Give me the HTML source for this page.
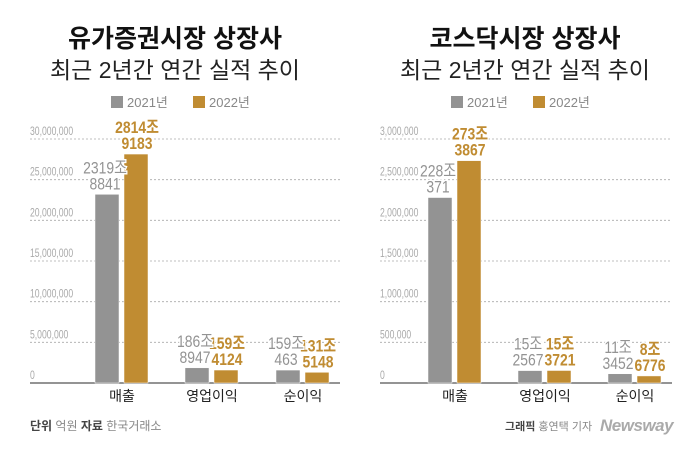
<!DOCTYPE html>
<html><head><meta charset="utf-8"><style>
body{margin:0;width:700px;height:450px;background:#fff;overflow:hidden;font-family:"Liberation Sans","Noto Sans CJK KR",sans-serif}
svg text{font-family:"Liberation Sans","Noto Sans CJK KR",sans-serif}
</style></head><body>
<svg width="700" height="450">
<g id="root"></g>
<g>
<text x="30" y="430" font-size="12" fill="#444" font-weight="bold">단위 <tspan font-weight="normal" fill="#888">억원</tspan>  자료 <tspan font-weight="normal" fill="#888">한국거래소</tspan></text>
<text x="505" y="430" font-size="11" fill="#444" font-weight="bold">그래픽 <tspan font-weight="normal" fill="#888">홍연택 기자</tspan></text>
<text x="600" y="431" font-size="17" fill="#aaa" font-style="italic" font-weight="bold" letter-spacing="-0.5">Newsway</text>
</g>
</svg>
<script>
const categories=["매출","영업이익","순이익"];
const kospi2021=[23198841,1868947,1590463];
const kospi2022=[28149183,1594124,1315148];
const kospi2021Labels=[["2319조","8841"],["186조","8947"],["159조","463"]];
const kospi2022Labels=[["2814조","9183"],["159조","4124"],["131조","5148"]];
const kospiTicks=[0,5000000,10000000,15000000,20000000,25000000,30000000];
const kosdaq2021=[2280371,152567,113452];
const kosdaq2022=[2733867,153721,86776];
const kosdaq2021Labels=[["228조","371"],["15조","2567"],["11조","3452"]];
const kosdaq2022Labels=[["273조","3867"],["15조","3721"],["8조","6776"]];
const kosdaqTicks=[0,500000,1000000,1500000,2000000,2500000,3000000];
const NS="http://www.w3.org/2000/svg";
const root=document.getElementById('root');
function mk(t,a,p){const e=document.createElementNS(NS,t);for(const k in a)e.setAttribute(k,a[k]);(p||root).appendChild(e);return e;}
function chart(ox,title1,ticks,v1,v2,l1,l2,name){
  const g=mk('g',{});
  
  
  const maxV=ticks[ticks.length-1];
  const y0=383,y1=139;
  const y=v=>y0-(v/maxV)*(y0-y1);
  const t1=mk('text',{x:ox+175,y:47,'text-anchor':'middle','font-size':25,'font-weight':'bold',fill:'#111'},g);t1.textContent=title1;
  
  
  const t2=mk('text',{x:ox+175,y:78,'text-anchor':'middle','font-size':23,fill:'#222'},g);t2.textContent='최근 2년간 연간 실적 추이';
  
  
  const lg=mk('g',{},g);
  
  
  const lx=ox+(name==='kospi-chart'?111:101);
  mk('rect',{x:lx,y:96,width:12,height:12,fill:'#939393'},lg);
  let a=mk('text',{x:lx+16,y:107,'font-size':13,fill:'#888'},lg);a.textContent='2021년';
  mk('rect',{x:lx+82,y:96,width:12,height:12,fill:'#c08c32'},lg);
  a=mk('text',{x:lx+98,y:107,'font-size':13,fill:'#888'},lg);a.textContent='2022년';
  const ax0=ox+30,ax1=ox+(name==='kospi-chart'?340:322);
  ticks.forEach(tk=>{
    const yy=y(tk);
    if(tk>0){const l=mk('line',{x1:ax0,x2:ax1,y1:yy,y2:yy,stroke:'#aaa','stroke-dasharray':'2,2','stroke-width':0.8},g);
    
    }
    const tx=mk('text',{x:ax0,y:yy-4,'font-size':12,fill:'#aaa',transform:`translate(${ax0},0) scale(0.72,1) translate(${-ax0},0)`},g);
    tx.textContent=tk.toLocaleString('en-US');
    
    
  });
  const base=mk('line',{x1:ax0,x2:ax1,y1:y0,y2:y0,stroke:'#555','stroke-width':1.2},g);
  
  
  const centers=name==='kospi-chart'?[122,212,303]:[105,195,285];
  const labels=[];
  categories.forEach((c,i)=>{
    const cx=ox+centers[i];
    [[v1,l1,'#939393',-15,'2021'],[v2,l2,'#c08c32',14,'2022']].forEach(([vs,ls,col,off,yr])=>{
      const bx=cx+off, top=y(vs[i]);
      const r=mk('rect',{x:bx-12,y:top,width:24,height:y0-top,fill:col,stroke:'#fff','stroke-width':0.5},g);
      
      
      labels.push([bx,top,ls[i],col,yr]);
    });
    const cl=mk('text',{x:cx,y:401,'text-anchor':'middle','font-size':14,fill:'#222'},g);
    cl.textContent=c;
    
    
  });
  labels.sort((p,q)=>(p[4]==='2021')-(q[4]==='2021'));
  labels.forEach(([bx,top,ls,col,yr])=>{
    const lxp=yr==='2021'?bx-2:bx+1;
    [0,1].forEach(k=>{
      const t=mk('text',{x:lxp,y:top-21+k*16,'text-anchor':'middle','font-size':17,fill:col,'font-weight':yr==='2022'?'bold':'normal',stroke:'#fff','stroke-width':3,'paint-order':'stroke',transform:`translate(${lxp},0) scale(0.82,1) translate(${-lxp},0)`},g);
      t.textContent=ls[k];
      
      
    });
  });
}
chart(0,'유가증권시장 상장사',kospiTicks,kospi2021,kospi2022,kospi2021Labels,kospi2022Labels,'kospi-chart');
chart(350,'코스닥시장 상장사',kosdaqTicks,kosdaq2021,kosdaq2022,kosdaq2021Labels,kosdaq2022Labels,'kosdaq-chart');
</script>
</body></html>
